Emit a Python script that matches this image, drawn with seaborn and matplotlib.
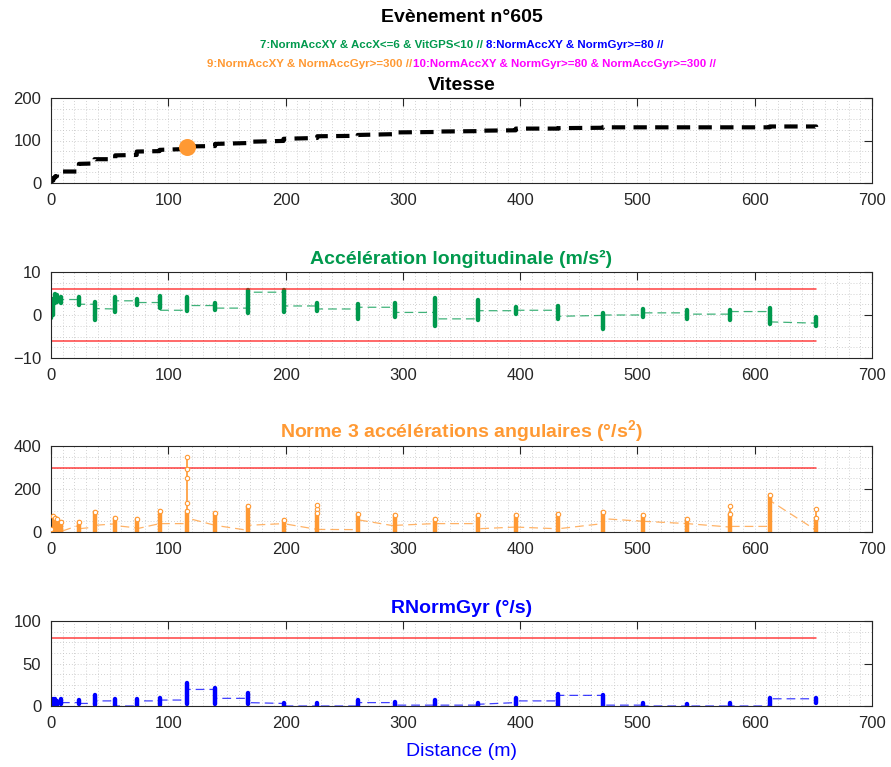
import numpy as np
import pandas as pd
import matplotlib
matplotlib.use("Agg")
import matplotlib.pyplot as plt
from matplotlib.ticker import MultipleLocator
import seaborn as sns

# ---------------------------------------------------------------- data
# distance (m) of each burst of high-rate samples
distance_m = [0.0, 2.0, 3.7, 5.1, 8.8, 23.8, 37.1, 54.7, 73.1, 92.6, 116.1, 139.9,
              167.7, 198.3, 227.0, 261.5, 293.3, 327.0, 363.7, 396.3, 432.3, 470.5,
              504.5, 542.5, 578.8, 612.7, 652.4]

# GPS speed (km/h): value entering / leaving each burst
speed_in = [0, 6, 13, 16, 22, 27, 46, 56, 66, 75, 80, 87, 94, 99, 106, 111, 115,
            120, 122, 124, 128, 130, 131, 131, 131, 131, 133]
speed_out = [4, 12, 16, 20, 27, 45, 56, 65, 74, 78, 86, 92, 97, 104, 110, 113, 119,
             121, 123, 128, 129, 131, 131, 131, 131, 133, 132]
event_distance = [116.1]
event_speed = [84]

# longitudinal acceleration (m/s²)
acc_in = [-0.3, 0.0, 3.2, 3.8, 3.0, 3.6, 2.5, 1.4, 3.3, 2.9, 1.1, 2.2, 1.6, 5.3, 2.1,
          1.4, 1.8, 0.6, -0.9, 1.0, 1.1, -0.1, 0.0, 0.5, 0.2, 0.8, -1.9]
acc_lo = [-0.6, 0.0, 2.9, 3.0, 2.8, 2.3, -1.2, 0.6, 2.3, 1.6, 1.0, 1.2, 0.4, 0.8, 0.9,
          -1.0, -0.4, -2.6, -1.2, 0.2, -0.9, -3.3, -0.5, -0.9, -1.2, -2.1, -2.6]
acc_hi = [0.3, 3.8, 4.9, 4.6, 4.2, 4.1, 3.0, 4.1, 3.7, 4.5, 4.3, 2.9, 5.8, 5.8, 2.9,
          2.6, 2.7, 3.9, 3.5, 1.9, 2.1, 0.5, 1.4, 1.2, 1.2, 1.7, -0.4]
acc_out = [0.0, 3.5, 4.0, 3.2, 3.6, 2.5, 1.5, 3.3, 2.9, 1.1, 2.2, 1.6, 5.3, 2.1, 1.4,
           1.8, 0.6, -0.9, 1.0, 1.1, -0.3, 0.0, 0.5, 0.2, 0.8, -1.6, -1.9]
acc_limit = 6

# norm of the 3 angular accelerations (°/s²)
nag_in = [5, 10, 20, 15, 10, 31, 23, 38, 19, 39, 39, 31, 8, 39, 12, 11, 28, 39, 39,
          23, 15, 39, 50, 39, 23, 26, 8]
nag_lo = [0] * 27
nag_hi = [15, 75, 65, 60, 45, 46, 93, 67, 60, 98, 100, 90, 121, 57, 90, 84, 78, 62,
          78, 78, 85, 93, 81, 62, 85, 170, 65]
nag_out = [10, 20, 15, 10, 3, 15, 31, 30, 15, 39, 65, 31, 31, 39, 12, 57, 31, 39, 15,
           23, 15, 62, 50, 39, 26, 147, 8]
nag_peak_x = [116.1, 116.1, 116.1, 116.1, 227.0, 227.0, 578.8, 652.4]
nag_peak_v = [136, 251, 291, 349, 105, 127, 121, 105]
nag_limit = 300

# resulting gyro norm (°/s)
gyr_in = [1, 2, 5, 4, 3, 4, 3, 6, 0, 6, 7, 19.5, 9, 3, 0, 0, 4, 1, 1, 4, 6, 12.5, 1,
          0, 0, 0, 8.5]
gyr_lo = [0, 0, 2, 1, 2, 2, 1, 0, 0, 1, 2, 2, 2, 0, 0, 0, 0, 0, 0, 1, 0, 0, 0, 0, 0,
          0, 4]
gyr_hi = [3, 8, 8, 6, 8, 7, 13, 8, 8, 9, 27, 21.5, 15, 3, 3, 7, 5, 7, 4, 9, 14, 13, 4,
          2, 4, 9, 9]
gyr_out = [2, 5, 4, 3, 4, 3, 6, 0, 6, 7, 19.5, 9, 4, 0, 0, 4, 1, 1, 2, 6, 12.5, 1, 0,
           0, 0, 8.5, 8.5]
gyr_limit = 80

title_main = "Evènement n°605"
legend_line1 = [("7:NormAccXY & AccX<=6 & VitGPS<10 // ", "#00994d"),
                ("8:NormAccXY & NormGyr>=80 //", "#0000ff")]
legend_line2 = [("9:NormAccXY & NormAccGyr>=300 //", "#ff9933"),
                ("10:NormAccXY & NormGyr>=80 & NormAccGyr>=300 //", "#ff00ff")]

GREEN, ORANGE, BLUE, BLACK = "#00994d", "#ff9933", "#0000ff", "#000000"

# ---------------------------------------------------------------- style
sns.set_theme(style="white")
plt.rcParams["font.family"] = ["Liberation Sans", "DejaVu Sans"]
plt.rcParams["mathtext.fontset"] = "custom"
plt.rcParams["mathtext.rm"] = "Liberation Sans"
plt.rcParams["mathtext.bf"] = "Liberation Sans:bold"

W, H = 891, 767
fig = plt.figure(figsize=(W / 100, H / 100), dpi=100)
fig.patch.set_facecolor("white")


def add_axes(top_px, bottom_px, left_px=51, right_px=872):
    return fig.add_axes([left_px / W, 1 - bottom_px / H,
                         (right_px - left_px) / W, (bottom_px - top_px) / H])


def path_frame(x, *cols):
    """Chain the samples of every burst in acquisition order."""
    rows = []
    for i, xi in enumerate(x):
        for c in cols:
            rows.append((xi, c[i]))
    return pd.DataFrame(rows, columns=["dist", "val"])


def style_axes(ax, ylim, yticks, yminor):
    ax.set_xlim(0, 700)
    ax.set_ylim(*ylim)
    ax.set_xticks(range(0, 701, 100))
    ax.set_yticks(yticks)
    ax.xaxis.set_minor_locator(MultipleLocator(10))
    ax.yaxis.set_minor_locator(MultipleLocator(yminor))
    for which in ("major", "minor"):
        ax.grid(which=which, linestyle=(0, (1, 2.5)), color="#c2c2c2", lw=0.6)
    ax.set_axisbelow(True)
    ax.tick_params(which="major", direction="in", top=True, right=True, length=6,
                   width=0.8, colors="#262626", labelsize=12, pad=7)
    ax.tick_params(which="minor", length=0)
    for s in ax.spines.values():
        s.set_color("#262626")
        s.set_linewidth(0.8)
    ax.set_xlabel("")
    ax.set_ylabel("")


def draw_channel(ax, x, v_in, v_lo, v_hi, v_out, color, limit=None):
    df = path_frame(x, v_in, v_lo, v_hi, v_out)
    sns.lineplot(data=df, x="dist", y="val", sort=False, estimator=None, ax=ax,
                 color=color, lw=0.9, alpha=0.75, linestyle=(0, (7, 4)))
    bars = ax.vlines(x, v_lo, v_hi, color=color, lw=3.2)
    bars.set_capstyle("round")
    if limit is not None:
        for lv in np.atleast_1d(limit):
            ax.plot([0, x[-1]], [lv, lv], color="#ff0000", lw=1.1, alpha=0.75)


title_kw = dict(fontsize=14, fontweight="bold", pad=6)

# ---- Vitesse
ax1 = add_axes(98, 183)
sp = path_frame(distance_m, speed_in, speed_out)
sns.lineplot(data=sp, x="dist", y="val", sort=False, estimator=None, ax=ax1,
             color=BLACK, lw=3.0, linestyle=(0, (3.2, 2.0)))
sns.scatterplot(x=event_distance, y=event_speed, ax=ax1, color=ORANGE, s=150,
                edgecolor=ORANGE, linewidth=0, zorder=5)
style_axes(ax1, (0, 200), [0, 100, 200], 25)
ax1.set_title("Vitesse", color=BLACK, **title_kw)

# ---- Accélération longitudinale
ax2 = add_axes(272, 358)
draw_channel(ax2, distance_m, acc_in, acc_lo, acc_hi, acc_out, GREEN,
             limit=[acc_limit, -acc_limit])
style_axes(ax2, (-10, 10), [-10, 0, 10], 2.5)
ax2.set_title("Accélération longitudinale (m/s²)", color=GREEN, **title_kw)

# ---- Norme 3 accélérations angulaires
ax3 = add_axes(446, 532)
draw_channel(ax3, distance_m, nag_in, nag_lo, nag_hi, nag_out, ORANGE, limit=nag_limit)
hi_at = dict(zip(distance_m, nag_hi))
peak_top = {}
for px, pv in zip(nag_peak_x, nag_peak_v):
    peak_top[px] = max(pv, peak_top.get(px, 0))
ax3.vlines(list(peak_top), [hi_at[p] for p in peak_top], list(peak_top.values()),
           color=ORANGE, lw=1.2)
sns.scatterplot(x=nag_peak_x, y=nag_peak_v, ax=ax3, marker="o", s=10,
                facecolor="white", edgecolor=ORANGE, linewidth=0.8, zorder=5)
sns.scatterplot(x=distance_m, y=nag_hi, ax=ax3, marker="o", s=10,
                facecolor="white", edgecolor=ORANGE, linewidth=0.8, zorder=5)
style_axes(ax3, (0, 400), [0, 200, 400], 50)
ax3.set_title(r"Norme 3 accélérations angulaires (°/s$^\mathbf{2}$)", color=ORANGE,
              **title_kw)

# ---- RNormGyr
ax4 = add_axes(621, 706)
draw_channel(ax4, distance_m, gyr_in, gyr_lo, gyr_hi, gyr_out, BLUE, limit=gyr_limit)
style_axes(ax4, (0, 100), [0, 50, 100], 12.5)
ax4.set_title("RNormGyr (°/s)", color=BLUE, **title_kw)
ax4.set_xlabel("Distance (m)", color=BLUE, fontsize=14, labelpad=9)

# ---- headings
fig.text(461.5 / W, 1 - 18 / H, title_main, ha="center", va="center",
         fontsize=14, fontweight="bold", color="black")

renderer = fig.canvas.get_renderer()


def colored_line(y_px, parts, fontsize=8.25):
    texts = [fig.text(0, 1 - y_px / H, s, color=c, fontsize=fontsize,
                      fontweight="bold", ha="left", va="center") for s, c in parts]
    widths = [t.get_window_extent(renderer).width for t in texts]
    x0 = 461.5 - sum(widths) / 2
    for t, w in zip(texts, widths):
        t.set_x(x0 / W)
        x0 += w


colored_line(45, legend_line1)
colored_line(64, legend_line2)

fig.savefig("out.png", dpi=100, facecolor="white")
